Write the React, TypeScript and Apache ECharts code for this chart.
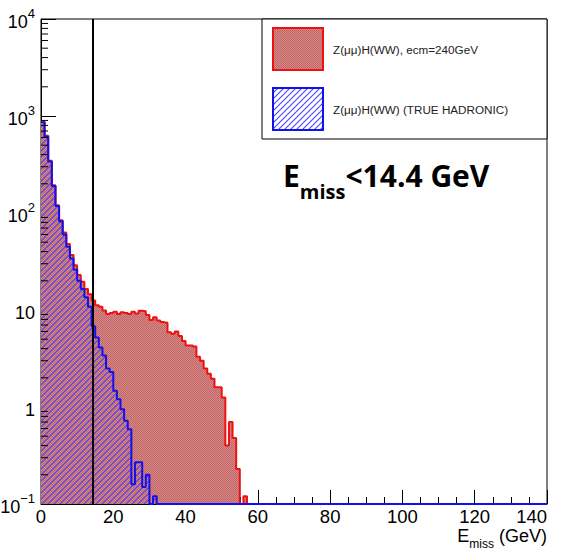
import React, { useEffect, useRef } from "react";
import * as echarts from "echarts";

// ---- data (bin contents, 1 GeV bins starting at 0) ----
const binWidth = 1;
const xMax = 140;
const yMin = 0.1;
const yMax = 10000;
const cutValue = 14.4;

const redValues = [
  870, 625, 345, 193, 120, 84, 63, 48, 37, 29,
  23, 19.5, 16.5, 14.5, 12.5, 11.2, 10.8, 9.9, 9.1, 9.3,
  9.6, 9.1, 9.5, 9.3, 9.1, 9.6, 9.2, 9.8, 9.7, 8.9,
  7.9, 8.4, 7.8, 7.5, 7.4, 5.9, 5.7, 6.0, 5.4, 4.8,
  4.3, 4.3, 4.2, 3.3, 3.0, 2.5, 2.2, 1.95, 1.6, 1.6,
  1.25, 0.4, 0.7, 0.48, 0.23, 0, 0.12,
];
const blueValues = [
  860, 610, 340, 190, 118, 82, 60, 45, 34, 26,
  20, 16.5, 13.5, 10.8, 6.8, 5.2, 4.1, 3.4, 2.5, 2.3,
  1.47, 1.2, 0.95, 0.72, 0.59, 0.16, 0.27, 0.27, 0.15, 0.2,
  0, 0.12,
];

const legendLabels = ["Z(\u03bc\u03bc)H(WW), ecm=240GeV", "Z(\u03bc\u03bc)H(WW) (TRUE HADRONIC)"];
const xTitleParts = ["E", "miss", " (GeV)"];
const xTickInterval = 20;
const yMajorTicks = [0.1, 1, 10, 100, 1000, 10000];
const yMinorMultipliers = [2, 3, 4, 5, 6, 7, 8, 9];

function stepPoints(values: number[]) {
  const n = Math.round(xMax / binWidth);
  const pts: number[][] = [];
  let last = yMin;
  for (let i = 0; i < n; i++) {
    const v = i < values.length ? values[i] : 0;
    last = v > 0 ? v : yMin;
    pts.push([i * binWidth, last]);
  }
  pts.push([xMax, last]);
  return pts;
}

function svgPattern(body: string, size: number) {
  const svg =
    `<svg xmlns="http://www.w3.org/2000/svg" width="${size}" height="${size}">` +
    body +
    `</svg>`;
  return {
    image: "data:image/svg+xml;charset=utf-8," + encodeURIComponent(svg),
    repeat: "repeat",
    imageWidth: size,
    imageHeight: size,
  };
}

const redPatternBody =
  '<rect width="2" height="2" fill="#d65c5c"/>' +
  '<rect x="1" y="0" width="1" height="1" fill="#c09292"/>' +
  '<rect x="0" y="1" width="1" height="1" fill="#c09292"/>';

function hatchBody(color: string, bg?: string) {
  return (
    (bg ? `<rect width="6" height="6" fill="${bg}"/>` : "") +
    `<path d="M-1,7 L7,-1 M-1,1 L1,-1 M5,7 L7,5" stroke="${color}" stroke-width="1.2" fill="none"/>`
  );
}

function yLabel(v: number) {
  if (Math.abs(v - 10) < 1e-9) return "{b|10}";
  if (Math.abs(v - 1) < 1e-9) return "{b|1}";
  const e = Math.round(Math.log10(v));
  const sup = e < 0 ? "\u2212" + Math.abs(e) : String(e);
  return "{b|10}{s|" + sup + "}";
}

export default function App() {
  const ref = useRef<HTMLDivElement>(null);
  useEffect(() => {
    if (!ref.current) return;
    const chart = echarts.init(ref.current, null, { renderer: "svg" });
    const redPattern = svgPattern(redPatternBody, 2);
    const bluePattern = svgPattern(hatchBody("#4a4aff"), 6);
    const blueLegendPattern = svgPattern(hatchBody("#4a4aff", "#ffffff"), 6);
    const font = "Liberation Sans";

    const minorTicks: number[][] = [];
    yMajorTicks.slice(0, -1).forEach((d) =>
      yMinorMultipliers.forEach((m) => minorTicks.push([0, d * m]))
    );

    // axis title laid out right-to-left so that it ends at the plot's right edge
    const titleRight = 547;
    const fmt: any = (echarts as any).format;
    const gevW = fmt && fmt.getTextRect ? fmt.getTextRect(xTitleParts[2], "18px " + font).width : 53;
    const missW = fmt && fmt.getTextRect ? fmt.getTextRect(xTitleParts[1], "12px " + font).width : 25;
    const missRight = titleRight - gevW;
    const eRight = missRight - missW;

    const option: any = {
      animation: false,
      backgroundColor: "#ffffff",
      grid: {
        left: 41,
        right: 19,
        top: 19,
        bottom: 46,
        containLabel: false,
        outerBoundsMode: "none",
        show: true,
        borderColor: "#000",
        borderWidth: 1,
        backgroundColor: "transparent",
      },
      xAxis: {
        type: "value",
        min: 0,
        max: xMax,
        interval: xTickInterval,
        axisLine: { show: true, lineStyle: { color: "#000", width: 1 } },
        axisTick: { show: true, inside: true, length: 14, lineStyle: { color: "#000" } },
        minorTick: { show: true, splitNumber: 4, length: 7, lineStyle: { color: "#000" } },
        splitLine: { show: false },
        axisLabel: {
          fontSize: 18.5,
          lineHeight: 15,
          fontFamily: font,
          color: "#000",
          margin: 5,
          alignMaxLabel: "right",
        },
      },
      yAxis: {
        type: "log",
        logBase: 10,
        min: yMin,
        max: yMax,
        axisLine: { show: true, lineStyle: { color: "#000", width: 1 } },
        axisTick: { show: true, inside: true, length: 15, lineStyle: { color: "#000" } },
        splitLine: { show: false },
        axisLabel: {
          margin: 6,
          formatter: (v: number) => yLabel(v),
          rich: {
            b: { fontSize: 18, fontFamily: font, color: "#000", lineHeight: 24, verticalAlign: "bottom" },
            s: { fontSize: 13, fontFamily: font, color: "#000", lineHeight: 13, verticalAlign: "top" },
          },
        },
      },
      series: [
        {
          name: legendLabels[0],
          type: "line",
          step: "end",
          data: stepPoints(redValues),
          symbol: "none",
          clip: false,
          z: 2,
          lineStyle: { color: "#ee1111", width: 2 },
          areaStyle: { color: redPattern, origin: "start", opacity: 1 },
        },
        {
          name: legendLabels[1],
          type: "line",
          step: "end",
          data: stepPoints(blueValues),
          symbol: "none",
          clip: false,
          z: 3,
          lineStyle: { color: "#1111ee", width: 2 },
          areaStyle: { color: bluePattern, origin: "start", opacity: 1 },
          markLine: {
            silent: true,
            symbol: ["none", "none"],
            label: { show: false },
            lineStyle: { color: "#000", width: 2, type: "solid" },
            data: [{ xAxis: cutValue }],
          },
        },
        {
          type: "custom",
          silent: true,
          z: 4,
          data: minorTicks,
          renderItem: (params: any, api: any) => {
            const p = api.coord([api.value(0), api.value(1)]);
            return {
              type: "line",
              shape: { x1: p[0], y1: p[1], x2: p[0] + 7, y2: p[1] },
              style: { stroke: "#000", lineWidth: 1 },
            };
          },
        },
      ],
      graphic: [
        {
          type: "rect",
          shape: { x: 262, y: 19, width: 285, height: 120 },
          style: { fill: "#fff", stroke: "#000", lineWidth: 1 },
          z: 10,
        },
        {
          type: "rect",
          shape: { x: 273, y: 28, width: 50, height: 42 },
          style: { fill: redPattern, stroke: "#ee1111", lineWidth: 2 },
          z: 11,
        },
        {
          type: "rect",
          shape: { x: 273, y: 88, width: 50, height: 42 },
          style: { fill: blueLegendPattern, stroke: "#1111ee", lineWidth: 2 },
          z: 11,
        },
        {
          type: "text",
          x: 333,
          y: 49,
          z: 11,
          style: {
            text: legendLabels[0],
            fontSize: 11.7,
            fontFamily: font,
            fill: "#222",
            verticalAlign: "middle",
          },
        },
        {
          type: "text",
          x: 333,
          y: 109,
          z: 11,
          style: {
            text: legendLabels[1],
            fontSize: 11.7,
            fontFamily: font,
            fill: "#222",
            verticalAlign: "middle",
          },
        },
        {
          type: "text",
          x: 283,
          y: 160,
          z: 11,
          style: {
            text: "{b|E}{s|miss}{b|<" + cutValue + " GeV}",
            verticalAlign: "top",
            rich: {
              b: { fontSize: 30, fontWeight: "bold", fontFamily: "Open Sans", fill: "#000", lineHeight: 41, verticalAlign: "top" },
              s: { fontSize: 20, fontWeight: "bold", fontFamily: "Open Sans", fill: "#000", lineHeight: 13, verticalAlign: "bottom" },
            },
          },
        },
        {
          type: "text",
          x: eRight,
          y: 536,
          z: 11,
          style: {
            text: xTitleParts[0],
            fontSize: 18,
            fontFamily: font,
            fill: "#000",
            align: "right",
            verticalAlign: "middle",
            lineHeight: 15,
          },
        },
        {
          type: "text",
          x: missRight,
          y: 543.5,
          z: 11,
          style: {
            text: xTitleParts[1],
            fontSize: 12,
            fontFamily: font,
            fill: "#000",
            align: "right",
            verticalAlign: "middle",
            lineHeight: 11,
          },
        },
        {
          type: "text",
          x: titleRight,
          y: 536,
          z: 11,
          style: {
            text: xTitleParts[2],
            fontSize: 18,
            fontFamily: font,
            fill: "#000",
            align: "right",
            verticalAlign: "middle",
            lineHeight: 15,
          },
        },
      ],
    };
    chart.setOption(option);
    return () => chart.dispose();
  }, []);
  return (
    <div
      ref={ref}
      style={{ position: "fixed", left: 0, top: 0, width: 566, height: 550, background: "#fff" }}
    />
  );
}
